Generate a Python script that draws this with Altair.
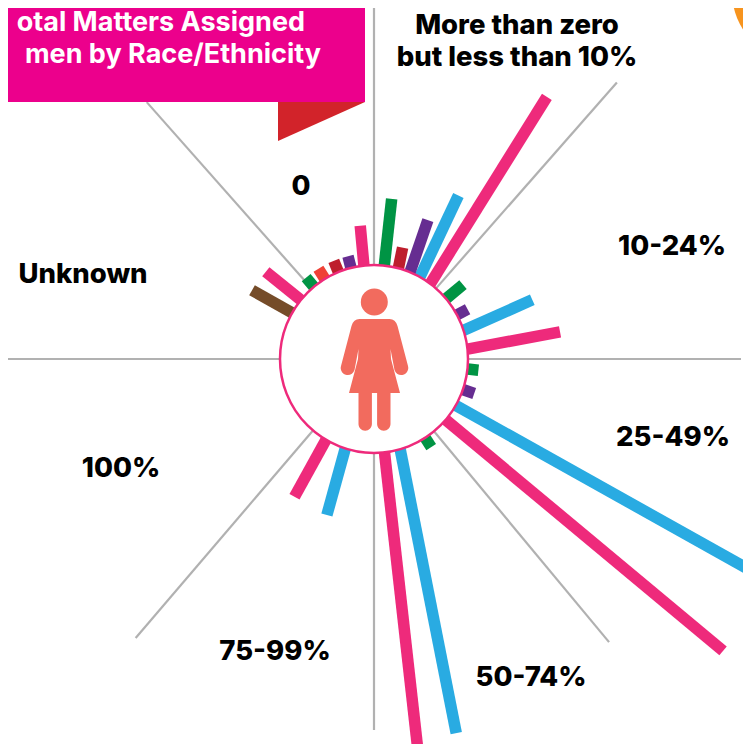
import math
import altair as alt
import pandas as pd

# ---- data (angles in degrees clockwise from north, lengths in radial units) ----
bar_angle_end = [33.4, 27.3, 21.2, 14.4, 6.3, -5.9, -14.2, -22.3, -31.6, -39.8, -51.1, -60.6,
                 50.1, 62.0, 69.5, 81.7, 96.1, 109.0, 119.3, 129.9, 147.0, 167.6, 173.6,
                 196.8, 210.0]
bar_angle_start = [37.0, 29.4, 22.7, 15.2, 6.3, -6.2, -14.2, -22.3, -31.6, -39.8, -51.1, -60.6,
                   50.1, 62.0, 72.6, 84.2, 96.1, 109.0, 119.6, 130.3, 147.0, 163.6, 173.6,
                   197.9, 210.8]
bar_length = [314, 184, 149, 115, 161, 134, 106, 106, 106, 106, 139, 140,
              116, 106, 169, 188, 105, 106, 470, 455, 105, 383, 420,
              163, 159]
bar_color = ["#EE2A7B", "#29ABE2", "#662D91", "#BE1E2D", "#009444", "#EE2A7B", "#662D91", "#BE1E2D",
             "#EF4136", "#009444", "#EE2A7B", "#754C29",
             "#009444", "#662D91", "#29ABE2", "#EE2A7B", "#009444", "#662D91", "#29ABE2", "#EE2A7B",
             "#009444", "#29ABE2", "#EE2A7B", "#29ABE2", "#EE2A7B"]
bar_inner = 90

grid_angle = [0, 41.3, 90, 140.3, 180, 220.5, 270, -41.5]
grid_length = [351, 368, 367, 368, 371, 367, 366, 343]

label_text = ["More than zero", "but less than 10%", "0", "Unknown", "10-24%", "25-49%",
              "50-74%", "75-99%", "100%"]
label_x = [143, 143, -73, -291, 298, 299, 157, -99, -253]
label_y = [333, 301, 172, 84, 112, -79, -319, -293, -110]

title_text = ["otal Matters Assigned", "men by Race/Ethnicity"]
title_x = [-69, -53]
title_y = [336, 304]

PERSON = ("M -15 -40 L 15 -40 Q 21 -40 23 -33 L 33.5 7 A 7 7 0 0 1 20 11 L 16 -10 L 16.5 0 "
          "L 25.5 34 L 16 34 L 16 65 A 6.7 6.7 0 0 1 2.6 65 L 2.6 34 L -2.6 34 L -2.6 65 "
          "A 6.7 6.7 0 0 1 -16 65 L -16 34 L -25.5 34 L -16.5 0 L -16 -10 L -20 11 "
          "A 7 7 0 0 1 -33.5 7 L -23 -33 Q -21 -40 -15 -40 Z")


def px(r, a):
    return r * math.sin(math.radians(a))


def py(r, a):
    return r * math.cos(math.radians(a))


bars = pd.DataFrame({
    "x": [px(bar_inner, a) for a in bar_angle_start],
    "y": [py(bar_inner, a) for a in bar_angle_start],
    "x2": [px(r, a) for r, a in zip(bar_length, bar_angle_end)],
    "y2": [py(r, a) for r, a in zip(bar_length, bar_angle_end)],
    "c": bar_color,
})
grid = pd.DataFrame({
    "x": [px(bar_inner, a) for a in grid_angle],
    "y": [py(bar_inner, a) for a in grid_angle],
    "x2": [px(r, a) for r, a in zip(grid_length, grid_angle)],
    "y2": [py(r, a) for r, a in zip(grid_length, grid_angle)],
})

xs = alt.Scale(domain=[-366, 369], range=[0, 735], nice=False, zero=False)
ys = alt.Scale(domain=[-385, 351], range=[736, 0], nice=False, zero=False)
X = alt.X("x:Q", scale=xs, axis=None)
Y = alt.Y("y:Q", scale=ys, axis=None)

grid_layer = alt.Chart(grid).mark_rule(color="#B1B1B1", strokeWidth=2.2).encode(
    x=X, y=Y, x2="x2:Q", y2="y2:Q")
bar_layer = alt.Chart(bars).mark_rule(strokeWidth=11.5).encode(
    x=X, y=Y, x2="x2:Q", y2="y2:Q", color=alt.Color("c:N", scale=None))
disc = alt.Chart(pd.DataFrame({"x": [0], "y": [0]})).mark_point(
    shape="circle", size=35344, filled=False, fill="white", fillOpacity=1,
    stroke="#EE2A7B", strokeWidth=2.5, opacity=1).encode(x=X, y=Y)
head = alt.Chart(pd.DataFrame({"x": [0.3], "y": [57]})).mark_point(
    shape="circle", size=729, filled=True, color="#F26B5E", opacity=1).encode(x=X, y=Y)
body = alt.Chart(pd.DataFrame({"x": [0.5], "y": [0]})).mark_point(
    shape=PERSON, size=4, filled=True, color="#F26B5E", opacity=1).encode(x=X, y=Y)
orange = alt.Chart(pd.DataFrame({"x": [427], "y": [367]})).mark_point(
    shape="circle", size=19044, filled=True, color="#F7941E", opacity=1).encode(x=X, y=Y)
banner = alt.Chart(pd.DataFrame({"x": [-374], "x2": [-9], "y": [359], "y2": [257]})).mark_rect(
    color="#EC008C").encode(x=X, y=Y, x2="x2:Q", y2="y2:Q")
fold = alt.Chart(pd.DataFrame({"x": [-96, -9], "y": [257, 257], "y2": [218, 257]})).mark_area(
    color="#D2232A").encode(x=X, y=Y, y2="y2:Q")
labels = alt.Chart(pd.DataFrame({"x": label_x, "y": label_y, "t": label_text})).mark_text(
    font="Inter", fontWeight=800, fontSize=27.5, color="#000000", align="center",
    baseline="middle").encode(x=X, y=Y, text="t:N")
title = alt.Chart(pd.DataFrame({"x": title_x, "y": title_y, "t": title_text})).mark_text(
    font="Inter", fontWeight="bold", fontSize=27, color="#FFFFFF", align="right",
    baseline="middle").encode(x=X, y=Y, text="t:N")

chart = alt.layer(grid_layer, bar_layer, disc, head, body, orange, banner, fold, labels, title).properties(
    width=735, height=736, padding=0, autosize=alt.AutoSizeParams(type="none"), background="white"
).configure_view(stroke=None)

chart.save("out.html", embed_options={"renderer": "svg", "actions": False})
